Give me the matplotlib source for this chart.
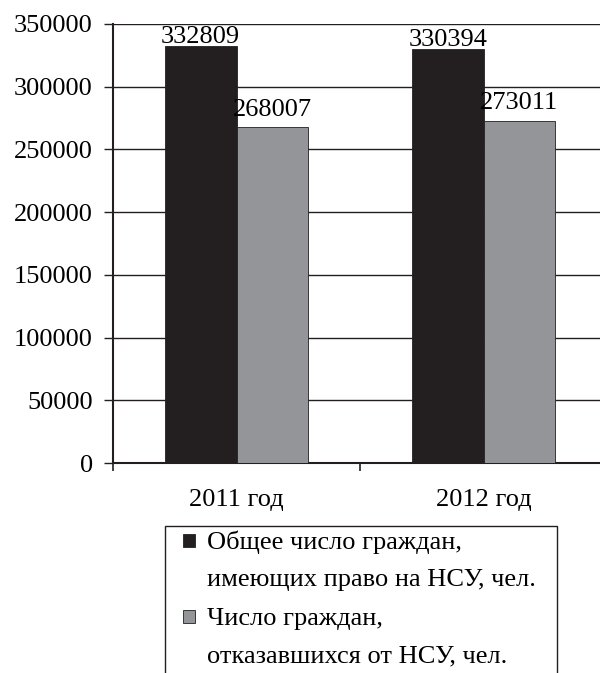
#!/usr/bin/env python3

import matplotlib.pyplot as plt
from matplotlib.patches import Rectangle

plt.rcParams['font.family'] = ['Liberation Serif', 'DejaVu Serif']

years = ["2011 год", "2012 год"]
total_eligible = [332809, 330394]
declined = [268007, 273011]
series_labels = ["Общее число граждан,\nимеющих право на НСУ, чел.",
                 "Число граждан,\nотказавшихся от НСУ, чел."]
series_colors = ["#231f20", "#939598"]
y_ticks = [0, 50000, 100000, 150000, 200000, 250000, 300000, 350000]

W, H = 600, 673
FS = 19
DARK = "#231f20"


def fx(px):
    return px / W


def fy(py):
    return 1 - py / H


def main():
    fig = plt.figure(figsize=(W / 100, H / 100), dpi=100)
    ax = fig.add_axes([fx(113), fy(463), 494 / W, 439 / H])

    width = 0.29
    label_lift = [2, 8]  # points above the bar top
    xs = range(len(years))
    for i, (vals, color) in enumerate(zip([total_eligible, declined], series_colors)):
        pos = [x + (i - 0.5) * width for x in xs]
        bars = ax.bar(pos, vals, width, color=color, edgecolor=DARK, linewidth=0.6, zorder=3)
        for b, v in zip(bars, vals):
            ax.annotate(str(v), (b.get_x() + b.get_width() / 2, v),
                        xytext=(0, label_lift[i]), textcoords="offset points",
                        ha="center", va="baseline", fontsize=FS, color="black")

    ax.set_xlim(-0.5, len(years) - 0.5)
    ax.set_ylim(0, 350000)
    ax.set_yticks(y_ticks)
    ax.set_yticklabels([str(t) for t in y_ticks])
    ax.grid(axis="y", color=DARK, linewidth=1.0)
    ax.set_axisbelow(True)

    # category separators as major ticks, names centred as minor ticks
    ax.set_xticks([-0.5, 0.5, 1.5])
    ax.set_xticklabels([])
    ax.set_xticks(list(xs), minor=True)
    ax.set_xticklabels(years, minor=True)
    ax.tick_params(axis="x", which="major", length=6, width=1.2, color=DARK)
    ax.tick_params(axis="x", which="minor", length=0, pad=19, labelsize=FS)
    ax.tick_params(axis="y", length=6.5, width=1.0, color=DARK, pad=8, labelsize=FS)

    for s in ["top", "right"]:
        ax.spines[s].set_visible(False)
    ax.spines["left"].set_linewidth(1.5)
    ax.spines["bottom"].set_linewidth(1.5)
    ax.spines["left"].set_color(DARK)
    ax.spines["bottom"].set_color(DARK)

    # legend box, cut at the bottom edge
    fig.patches.append(Rectangle((fx(165), fy(700)), (557 - 165) / W, (700 - 526) / H,
                                 transform=fig.transFigure, facecolor="white",
                                 edgecolor=DARK, linewidth=1.0))
    marker_tops = [534, 610]
    for top, label, color in zip(marker_tops, series_labels, series_colors):
        fig.patches.append(Rectangle((fx(183), fy(top + 13)), 12 / W, 13 / H,
                                     transform=fig.transFigure, facecolor=color,
                                     edgecolor=DARK, linewidth=0.6))
        for k, line in enumerate(label.split("\n")):
            fig.text(fx(207), fy(top + 15 + k * 37), line, fontsize=FS,
                     ha="left", va="baseline")

    fig.savefig("out.png", dpi=100)


if __name__ == "__main__":
    main()
